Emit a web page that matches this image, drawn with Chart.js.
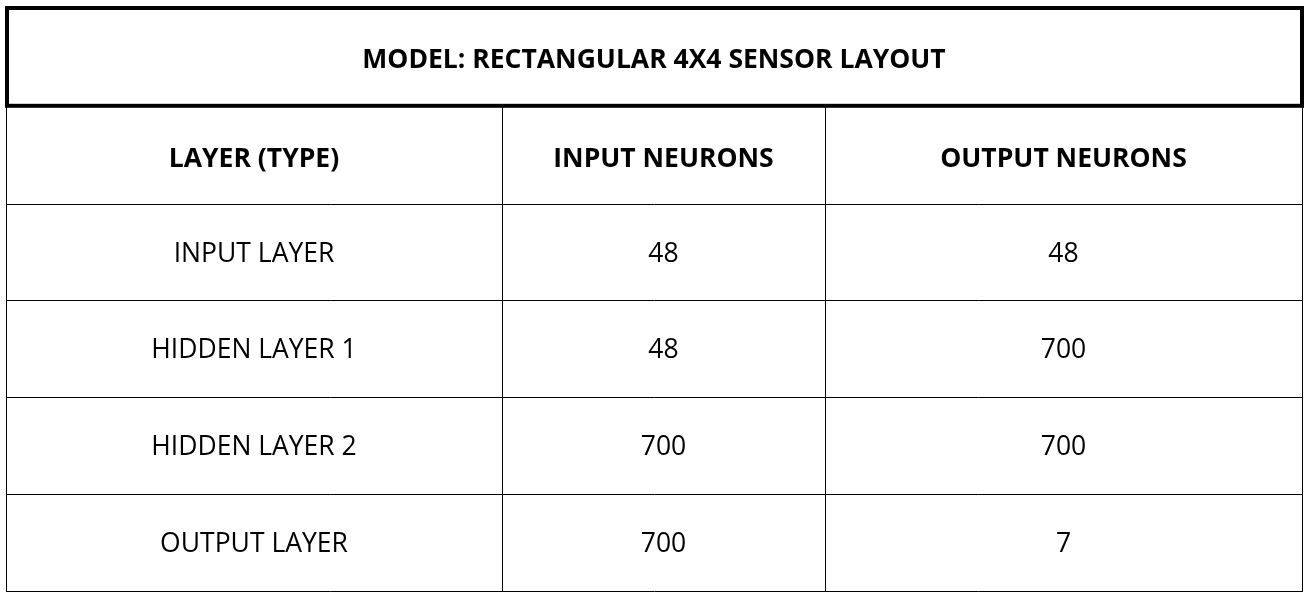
<!DOCTYPE html>
<html>
<head>
<meta charset="utf-8">
<title>Model: Rectangular 4x4 Sensor Layout</title>
<script src="https://cdn.jsdelivr.net/npm/chart.js@4.4.0/dist/chart.umd.min.js"></script>
<style>
  html, body { margin: 0; padding: 0; background: #fff; }
  #wrap { width: 1308px; height: 597px; }
</style>
</head>
<body>
<div id="wrap"><canvas id="table"></canvas></div>
<script>
// table contents
const title = 'MODEL: RECTANGULAR 4X4 SENSOR LAYOUT';
const headers = ['LAYER (TYPE)', 'INPUT NEURONS', 'OUTPUT NEURONS'];
const layers = ['INPUT LAYER', 'HIDDEN LAYER 1', 'HIDDEN LAYER 2', 'OUTPUT LAYER'];
const inputNeurons = [48, 48, 700, 700];
const outputNeurons = [48, 700, 700, 7];

// column edges along the x scale (pixels of table width)
const colEdges = [0, 496, 819, 1296];
const FONT = '"Open Sans", "Liberation Sans", sans-serif';

const tablePlugin = {
  id: 'tablePlugin',
  afterDraw(chart) {
    const ctx = chart.ctx;
    const x = chart.scales.x;
    const y = chart.scales.y;
    const area = chart.chartArea;
    const tb = chart.titleBlock;
    const rows = [headers].concat(layers.map((l, i) => [l, String(inputNeurons[i]), String(outputNeurons[i])]));

    ctx.save();
    // thick box round the title
    ctx.strokeStyle = '#000';
    ctx.lineWidth = 4;
    ctx.strokeRect(area.left + 1, tb.top, area.right - area.left - 1, area.top - 1 - tb.top);

    // thin grid
    ctx.lineWidth = 1;
    ctx.beginPath();
    for (let r = 1; r <= rows.length; r++) {
      const py = Math.round(y.getPixelForValue(r)) + 0.5;
      ctx.moveTo(area.left, py);
      ctx.lineTo(area.right + 1, py);
    }
    colEdges.forEach(v => {
      const px = Math.round(x.getPixelForValue(v)) + 0.5;
      ctx.moveTo(px, area.top);
      ctx.lineTo(px, y.getPixelForValue(rows.length) + 1);
    });
    ctx.stroke();

    // cell text
    ctx.fillStyle = '#000';
    ctx.textAlign = 'center';
    ctx.textBaseline = 'middle';
    rows.forEach((row, r) => {
      ctx.font = (r === 0 ? 'bold 26.5px ' : '26.5px ') + FONT;
      const cy = y.getPixelForValue(r + 0.5) + (r === 0 ? 4 : 2);
      row.forEach((txt, c) => {
        const cx = x.getPixelForValue((colEdges[c] + colEdges[c + 1]) / 2);
        ctx.fillText(txt, cx, cy);
      });
    });
    ctx.restore();
  }
};

new Chart(document.getElementById('table'), {
  type: 'scatter',
  data: { datasets: [] },
  options: {
    responsive: true,
    maintainAspectRatio: false,
    animation: false,
    layout: { padding: { left: 6, right: 6, top: 8, bottom: 6 } },
    scales: {
      x: { type: 'linear', display: false, min: colEdges[0], max: colEdges[colEdges.length - 1] },
      y: { type: 'linear', display: false, min: 0, max: layers.length + 1, reverse: true }
    },
    plugins: {
      legend: { display: false },
      tooltip: { enabled: false },
      title: {
        display: true,
        text: title,
        color: '#000',
        font: { family: FONT, size: 26.5, weight: 'bold', lineHeight: 1.2 },
        padding: { top: 37, bottom: 30 }
      }
    }
  },
  plugins: [tablePlugin]
});
</script>
</body>
</html>
